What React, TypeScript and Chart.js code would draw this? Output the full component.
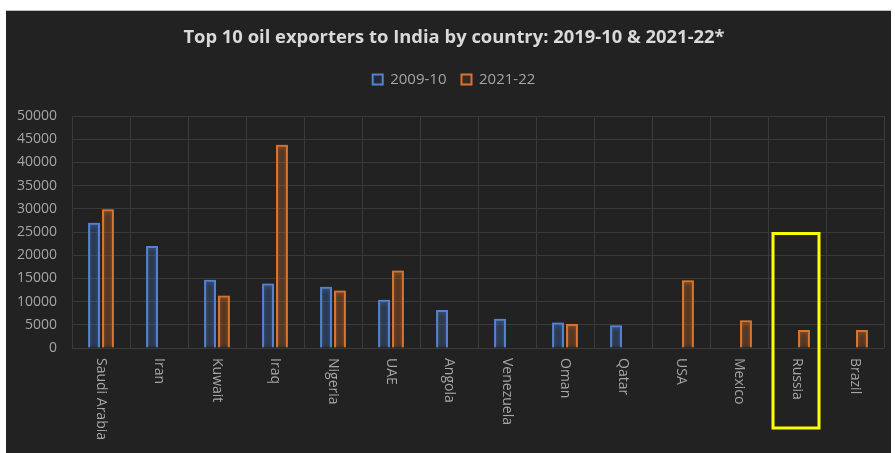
import React, { useEffect, useRef } from "react";
import { Chart, registerables } from "chart.js";

Chart.register(...registerables);

const categories = [
  "Saudi Arabia", "Iran", "Kuwait", "Iraq", "Nigeria", "UAE", "Angola",
  "Venezuela", "Oman", "Qatar", "USA", "Mexico", "Russia", "Brazil",
];
const series2009 = [27000, 22000, 14700, 13900, 13200, 10400, 8200, 6300, 5500, 4900, null, null, null, null];
const series2021 = [29900, null, 11300, 43800, 12400, 16700, null, null, 5200, null, 14600, 6000, 3900, 3900];
const seriesLabels = ["2009-10", "2021-22"];
const titleText = "Top 10 oil exporters to India by country: 2019-10 & 2021-22*";
const yMax = 50000;
const yStep = 5000;
const highlightCategory = "Russia";
const highlightTopValue = 25000;

const FONT = '"Open Sans", sans-serif';
const TEXT = "#a6a6a6";
const GRID = "#3a3a3a";
const BLUE = "#5583d0";
const ORANGE = "#d8742e";

const glowPlugin = {
  id: "glow",
  beforeDatasetDraw(chart: any, args: any) {
    const ctx = chart.ctx;
    ctx.save();
    ctx.shadowColor = chart.data.datasets[args.index].borderColor;
    ctx.shadowBlur = 5;
  },
  afterDatasetDraw(chart: any) {
    chart.ctx.restore();
  },
};

const legendSpacePlugin = {
  id: "legendSpace",
  beforeInit(chart: any) {
    const orig = chart.legend.fit;
    chart.legend.fit = function () {
      orig.bind(chart.legend)();
      this.height += 19;
    };
  },
  afterLayout(chart: any) {
    const shift = 9;
    [chart.titleBlock, chart.legend].forEach((b: any) => {
      if (b) {
        b.left += shift;
        b.right += shift;
      }
    });
  },
};

const labelsPlugin = {
  id: "xLabels",
  afterDraw(chart: any) {
    const { ctx } = chart;
    const x = chart.scales.x;
    const y = chart.scales.y;
    ctx.save();
    ctx.font = `14px ${FONT}`;
    ctx.fillStyle = TEXT;
    ctx.textAlign = "left";
    ctx.textBaseline = "middle";
    categories.forEach((c, i) => {
      const px = x.getPixelForValue(i);
      ctx.save();
      ctx.translate(px, y.bottom + 10);
      ctx.rotate(Math.PI / 2);
      ctx.fillText(c, 0, 0);
      ctx.restore();
    });
    const idx = categories.indexOf(highlightCategory);
    const cx = x.getPixelForValue(idx);
    const top = y.getPixelForValue(highlightTopValue) + 1.5;
    const bottom = y.bottom + 80;
    ctx.strokeStyle = "#ffff00";
    ctx.lineWidth = 3;
    ctx.strokeRect(cx - 24, top, 46, bottom - top);
    ctx.restore();
  },
};

export default function App() {
  const ref = useRef<HTMLCanvasElement>(null);
  useEffect(() => {
    if (!ref.current) return;
    const chart = new Chart(ref.current, {
      type: "bar",
      data: {
        labels: categories,
        datasets: [
          {
            label: seriesLabels[0],
            data: series2009,
            backgroundColor: "rgba(68,114,196,0.10)",
            borderColor: BLUE,
            borderWidth: 2,
            barPercentage: 0.86,
            categoryPercentage: 0.48,
          },
          {
            label: seriesLabels[1],
            data: series2021,
            backgroundColor: "rgba(237,125,49,0.10)",
            borderColor: ORANGE,
            borderWidth: 2,
            barPercentage: 0.86,
            categoryPercentage: 0.48,
          },
        ],
      },
      options: {
        animation: false,
        responsive: false,
        layout: { padding: { left: 0, right: 7, top: 0, bottom: 105 } },
        plugins: {
          title: {
            display: true,
            text: titleText,
            color: "#d9d9d9",
            font: { family: FONT, size: 18.4, weight: "bold" },
            padding: { top: 16, bottom: 8 },
          },
          legend: {
            display: true,
            labels: {
              color: TEXT,
              font: { family: FONT, size: 15 },
              boxWidth: 10,
              boxHeight: 10,
              padding: 15,
            },
          },
          tooltip: { enabled: false },
        },
        scales: {
          x: {
            offset: true,
            grid: { display: true, offset: true, color: GRID, drawTicks: false },
            border: { display: false },
            ticks: { display: false },
          },
          y: {
            min: 0,
            max: yMax,
            grid: { color: GRID, drawTicks: false },
            border: { display: false },
            ticks: {
              stepSize: yStep,
              color: TEXT,
              font: { family: FONT, size: 14 },
              padding: 15,
              callback: (v: any) => String(v),
            },
            afterFit: (s: any) => {
              s.width = 66;
            },
          },
        },
      },
      plugins: [glowPlugin, legendSpacePlugin, labelsPlugin],
    });
    return () => chart.destroy();
  }, []);
  return (
    <div style={{ position: "fixed", left: 0, top: 0, width: 895, height: 453, background: "#fff", overflow: "hidden" }}>
      <div style={{ position: "absolute", left: 6, top: 10, width: 885, height: 443, background: "#222222", borderTop: "1px solid #bbb", boxSizing: "border-box" }}>
        <canvas ref={ref} width={885} height={442} style={{ display: "block" }} />
      </div>
    </div>
  );
}
